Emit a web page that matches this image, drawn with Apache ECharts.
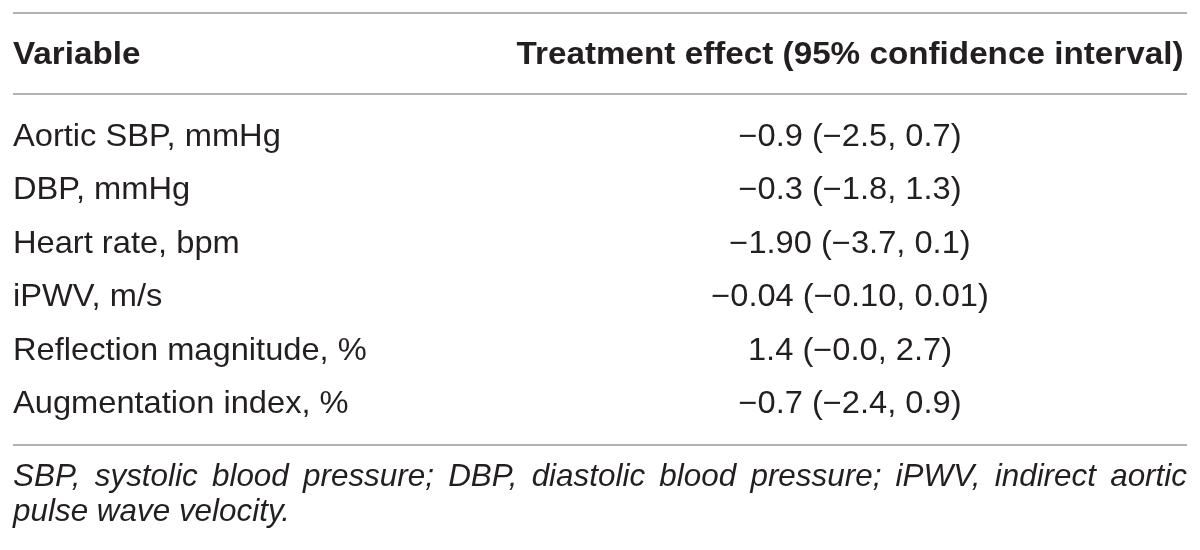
<!DOCTYPE html>
<html>
<head>
<meta charset="utf-8">
<script src="https://cdn.jsdelivr.net/npm/echarts@6/dist/echarts.min.js"></script>
<style>
html,body{margin:0;padding:0;background:#fff;}
#main{width:1200px;height:550px;}
</style>
</head>
<body>
<div id="main"></div>
<script>
// ---- data ----
var headers = ['Variable', 'Treatment effect (95% confidence interval)'];
var variables = ['Aortic SBP, mmHg', 'DBP, mmHg', 'Heart rate, bpm', 'iPWV, m/s', 'Reflection magnitude, %', 'Augmentation index, %'];
var estimates = ['\u22120.9', '\u22120.3', '\u22121.90', '\u22120.04', '1.4', '\u22120.7'];
var lowers = ['\u22122.5', '\u22121.8', '\u22123.7', '\u22120.10', '\u22120.0', '\u22122.4'];
var uppers = ['0.7', '1.3', '0.1', '0.01', '2.7', '0.9'];
var footnoteLines = [
  'SBP, systolic blood pressure; DBP, diastolic blood pressure; iPWV, indirect aortic',
  'pulse wave velocity.'
];

// ---- layout / style ----
var FONT = '"Liberation Sans", Arial, Helvetica, sans-serif';
var FS = 30.5;
var TXT = '#231f20';
var RULE = '#b3b3b3';
var LEFT = 13, RIGHT = 1187, COL2 = 850;
var HEADER_Y = 55.5, ROW0 = 137.5, ROW_STEP = 53.5;
var FOOT_Y = [478, 513];
var RULE_Y = [13, 94, 445];
var SX = { normal: 1.07, bold: 1.09, italic: 1.03 };

var ctx = document.createElement('canvas').getContext('2d');
function measure(text, font) { ctx.font = font; return ctx.measureText(text).width; }

var els = [];
RULE_Y.forEach(function (y) {
  els.push({ type: 'line', shape: { x1: LEFT, y1: y, x2: RIGHT, y2: y }, style: { stroke: RULE, lineWidth: 2 } });
});
function txt(text, x, y, align, weight, style) {
  var key = style === 'italic' ? 'italic' : (weight === 'bold' ? 'bold' : 'normal');
  els.push({ type: 'text', x: x, y: y, scaleX: SX[key], style: {
    text: text, fill: TXT, fontFamily: FONT, fontSize: FS, fontWeight: weight || 'normal',
    fontStyle: style || 'normal', align: align, verticalAlign: 'middle' } });
}
txt(headers[0], LEFT, HEADER_Y, 'left', 'bold');
txt(headers[1], COL2, HEADER_Y, 'center', 'bold');
variables.forEach(function (v, i) {
  var y = ROW0 + i * ROW_STEP;
  txt(v, LEFT, y, 'left');
  txt(estimates[i] + ' (' + lowers[i] + ', ' + uppers[i] + ')', COL2, y, 'center');
});
// footnote: first line justified, last line left aligned
var italicFont = 'italic ' + FS + 'px ' + FONT;
footnoteLines.forEach(function (line, li) {
  var y = FOOT_Y[li];
  if (li < footnoteLines.length - 1) {
    var words = line.split(' ');
    var widths = words.map(function (w) { return measure(w, italicFont) * SX.italic; });
    var total = widths.reduce(function (a, b) { return a + b; }, 0);
    var gap = (RIGHT - LEFT - total) / (words.length - 1);
    var x = LEFT;
    words.forEach(function (w, k) { txt(w, x, y, 'left', 'normal', 'italic'); x += widths[k] + gap; });
  } else {
    txt(line, LEFT, y, 'left', 'normal', 'italic');
  }
});

var chart = echarts.init(document.getElementById('main'), null, { renderer: 'canvas' });
chart.setOption({ backgroundColor: '#ffffff', animation: false, graphic: { elements: els } });
</script>
</body>
</html>
